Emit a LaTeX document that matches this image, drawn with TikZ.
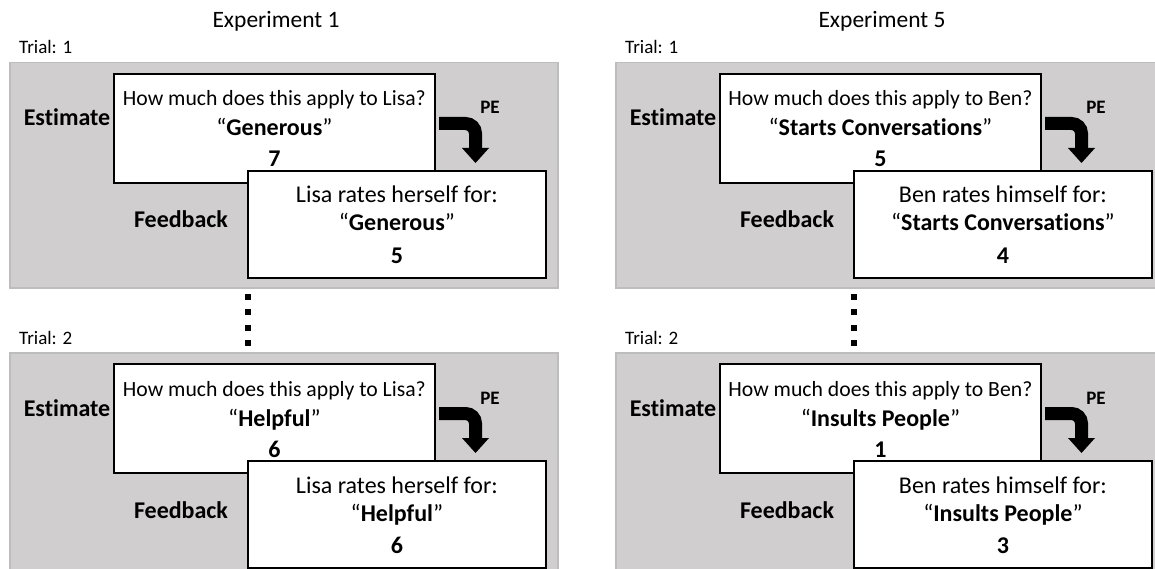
\documentclass[tikz,border=0pt]{standalone}
\usepackage{fontspec}
\setmainfont{Carlito}[Ligatures={NoCommon}]
\definecolor{bggray}{HTML}{D0CECE}
\definecolor{bdgray}{HTML}{BDBDBD}
\newcommand\trialpanel[9]{%
\begin{scope}[shift={(#2,#3)}]
  \node[panelbg, anchor=north west, minimum width=548pt, minimum height=225pt] (#1bg) at (9,62) {};
  \node[trial, anchor=base west] (#1tr) at (19,54) {Trial: #4};
  \node[card, anchor=north west, minimum width=321pt, minimum height=109pt] (#1est) at (113,73) {};
  \node[card, anchor=north west, minimum width=298pt, minimum height=107pt] (#1fb) at (247,170) {};
  \node[etxt] (#1q) at (#1est.center |- 0,106) {How much does this apply to #5?};
  \node[ftxt] (#1qt) at (#1est.center |- 0,136) {“\textbf{#6}”};
  \node[ftxt] (#1qn) at (#1est.center |- 0,167) {\textbf{#7}};
  \node[ftxt] (#1f) at (#1fb.center |- 0,203) {#8};
  \node[ftxt] (#1ft) at (#1fb.center |- 0,231) {“\textbf{#6}”};
  \node[ftxt] (#1fn) at (#1fb.center |- 0,263) {\textbf{#9}};
  \node[lbl] (#1el) at (67,126) {Estimate};
  \node[lbl] (#1fl) at (181,228) {Feedback};
  \node[pelbl] (#1pe) at (490,114) {PE};
  \coordinate (#1a) at (439,123.5);
  \coordinate (#1b) at (475.5,148);
  \draw[pearrow] (#1a) -| (#1b);
  \fill (#1b) ++(-13.5,0) -- ++(27,0) -- ++(-13.5,15) -- cycle;
\end{scope}}
\begin{document}
\begin{tikzpicture}[x=1pt,y=-1pt,
  panelbg/.style={fill=bggray,draw=bdgray,line width=1.5pt,inner sep=0pt},
  card/.style={draw=black,fill=white,line width=1.8pt,inner sep=0pt},
  etxt/.style={anchor=base,inner sep=0pt,font=\fontsize{21.7}{25}\selectfont},
  ftxt/.style={anchor=base,inner sep=0pt,font=\fontsize{24}{28}\selectfont},
  lbl/.style={anchor=base,inner sep=0pt,font=\fontsize{24}{28}\selectfont\bfseries},
  pelbl/.style={anchor=base,inner sep=0pt,font=\fontsize{19}{22}\selectfont\bfseries},
  trial/.style={inner sep=0pt,font=\fontsize{19}{22}\selectfont},
  ttl/.style={anchor=base,inner sep=0pt,font=\fontsize{23.5}{28}\selectfont},
  pearrow/.style={line width=13pt,rounded corners=10pt},
  dotsq/.style={fill=black}]
\useasboundingbox (0,0) rectangle (1155,569);
\clip (0,0) rectangle (1155,569);
\fill[white] (0,0) rectangle (1155,569);
\node[ttl] (t1) at (276,28) {Experiment 1};
\node[ttl] (t5) at (882,28) {Experiment 5};
\trialpanel{A}{0}{0}{1}{Lisa}{Generous}{7}{Lisa rates herself for:}{5}
\trialpanel{B}{0}{290}{2}{Lisa}{Helpful}{6}{Lisa rates herself for:}{6}
\trialpanel{C}{606}{0}{1}{Ben}{Starts Conversations}{5}{Ben rates himself for:}{4}
\trialpanel{D}{606}{290}{2}{Ben}{Insults People}{1}{Ben rates himself for:}{3}
\foreach \xx in {248,854}{
  \foreach \yy in {297,312,328,343}{
    \fill[dotsq] (\xx-3,\yy-3) rectangle (\xx+3,\yy+3);
  }
}
\end{tikzpicture}
\end{document}
